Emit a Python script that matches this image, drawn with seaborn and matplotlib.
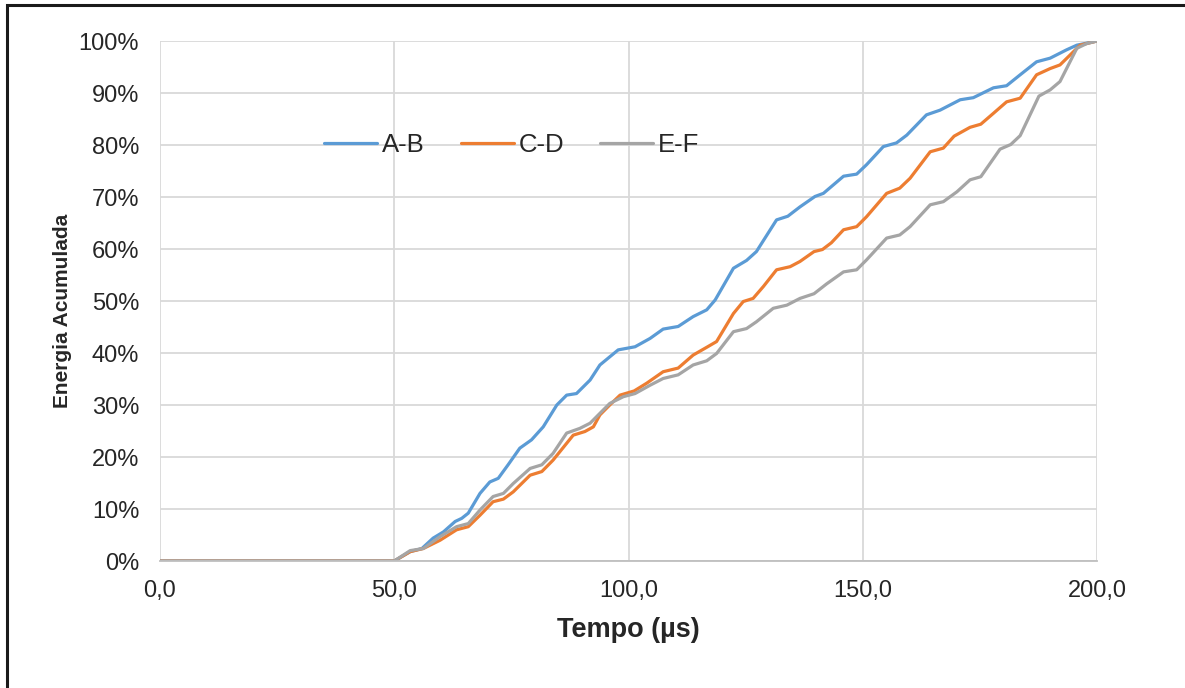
import numpy as np
import pandas as pd
import matplotlib
matplotlib.use("Agg")
import matplotlib.pyplot as plt
import seaborn as sns
from matplotlib.patches import Rectangle
from matplotlib.ticker import FuncFormatter

# ---- data ----
series_names = ["A-B", "C-D", "E-F"]

t_ab = [0, 50, 53.4, 55.9, 58.3, 60.5, 63, 64.4, 65.8, 68.3, 70.4, 72.2, 74.3, 76.8, 79.3,
        81.8, 84.7, 86.8, 88.9, 91.8, 93.9, 97.8, 101.4, 104.6, 107.4, 110.6, 113.8, 116.7,
        118.5, 122.4, 125.2, 127.3, 131.6, 134.0, 136.6, 139.8, 141.6, 145.9, 148.7, 150.8,
        154.4, 157.2, 159.4, 163.6, 166.5, 170.8, 173.6, 177.9, 180.7, 183.6, 187.1, 190,
        193.5, 195.7, 200]
e_ab = [0, 0, 1.8, 2.4, 4.4, 5.6, 7.6, 8.2, 9.2, 13.0, 15.2, 15.9, 18.5, 21.7, 23.3,
        25.8, 30.0, 31.9, 32.2, 34.8, 37.7, 40.6, 41.2, 42.8, 44.6, 45.1, 47.0, 48.3,
        50.2, 56.3, 57.8, 59.5, 65.6, 66.3, 68.1, 70.1, 70.7, 74.0, 74.4, 76.2,
        79.7, 80.4, 81.9, 85.8, 86.7, 88.7, 89.1, 91.0, 91.4, 93.5, 96.0, 96.7,
        98.3, 99.2, 100]

t_cd = [0, 50, 53.4, 56.2, 59.8, 63.3, 65.8, 68.3, 71.1, 73.3, 75.4, 79, 81.5, 83.9, 88.2,
        90.7, 92.5, 93.9, 96.0, 98.2, 101.2, 103.9, 107.4, 110.6, 113.8, 116.7, 118.8, 122.4,
        124.5, 126.6, 128.8, 131.6, 134.5, 136.6, 139.6, 141.4, 143.3, 145.9, 148.7, 150.8,
        155.1, 157.9, 160.1, 164.4, 167.2, 169.5, 172.9, 175.2, 177.9, 180.7, 183.6, 187.1,
        190, 192.1, 196.4, 200]
e_cd = [0, 0, 1.8, 2.4, 4.0, 6.0, 6.6, 8.8, 11.4, 11.9, 13.3, 16.5, 17.2, 19.4, 24.2,
        24.9, 25.8, 28.1, 30.0, 31.9, 32.7, 34.2, 36.4, 37.1, 39.6, 41.1, 42.2, 47.6,
        49.9, 50.5, 52.8, 56.0, 56.6, 57.6, 59.5, 59.9, 61.2, 63.7, 64.3, 66.2,
        70.7, 71.7, 73.6, 78.7, 79.4, 81.7, 83.4, 84.0, 86.1, 88.3, 89.0, 93.5,
        94.7, 95.4, 99.2, 100]

t_ef = [0, 50, 53.4, 56.2, 59.8, 63.3, 65.8, 68.3, 71.1, 73.3, 75.4, 79, 81.5, 83.9, 86.8,
        89.6, 91.8, 96, 98.9, 101.4, 104.6, 107.4, 110.6, 113.8, 116.7, 118.8, 122.4, 125.2,
        127.3, 130.9, 133.8, 136.6, 139.6, 142.3, 145.9, 148.7, 150.8, 155.1, 157.9, 160.1,
        164.4, 167.2, 170.1, 172.9, 175.2, 179.3, 181.6, 183.6, 187.6, 190, 192.1, 195.7,
        197.8, 200]
e_ef = [0, 0, 2.0, 2.4, 4.7, 6.6, 7.2, 9.8, 12.4, 13.0, 14.9, 17.8, 18.5, 20.7, 24.6,
        25.5, 26.5, 30.3, 31.6, 32.2, 33.8, 35.1, 35.8, 37.7, 38.5, 39.9, 44.1, 44.7,
        46.0, 48.6, 49.2, 50.5, 51.4, 53.3, 55.6, 56.0, 57.9, 62.1, 62.7, 64.3,
        68.5, 69.1, 71.0, 73.3, 73.9, 79.2, 80.1, 81.8, 89.4, 90.6, 92.2, 98.6,
        99.5, 100]

x_ticks = [0, 50, 100, 150, 200]
y_ticks = [0, 10, 20, 30, 40, 50, 60, 70, 80, 90, 100]

colors = {"A-B": "#5B9BD5", "C-D": "#ED7D31", "E-F": "#A5A5A5"}

df = pd.concat([
    pd.DataFrame({"t": t_ab, "e": e_ab, "serie": "A-B"}),
    pd.DataFrame({"t": t_cd, "e": e_cd, "serie": "C-D"}),
    pd.DataFrame({"t": t_ef, "e": e_ef, "serie": "E-F"}),
], ignore_index=True)

# ---- style ----
sns.set_theme(style="white")
plt.rcParams["font.family"] = ["Liberation Sans", "DejaVu Sans"]

fig = plt.figure(figsize=(11.85, 6.88), dpi=100)
ax = fig.add_axes([160 / 1185, 1 - 561 / 688, (1097 - 160) / 1185, (561 - 41) / 688])

sns.lineplot(data=df, x="t", y="e", hue="serie", hue_order=series_names,
             palette=colors, estimator=None, sort=False, linewidth=2.3, ax=ax)
for ln in ax.get_lines():
    ln.set_solid_joinstyle("round")
    ln.set_solid_capstyle("round")

ax.set_xlim(0, 200)
ax.set_ylim(0, 100)
ax.set_xticks(x_ticks)
ax.set_yticks(y_ticks)
ax.xaxis.set_major_formatter(FuncFormatter(lambda v, p: f"{v:.1f}".replace(".", ",")))
ax.yaxis.set_major_formatter(FuncFormatter(lambda v, p: f"{int(round(v))}%"))
ax.grid(True, color="#d9d9d9", linewidth=1.3)
ax.set_axisbelow(True)
for s in ["top", "right", "left"]:
    ax.spines[s].set_visible(False)
ax.spines["bottom"].set_color("#bfbfbf")
ax.spines["bottom"].set_linewidth(1.3)
ax.tick_params(axis="both", length=0, labelsize=17, labelcolor="#262626")
ax.tick_params(axis="x", pad=14)
ax.tick_params(axis="y", pad=15)

ax.set_xlabel("Tempo (µs)", fontsize=19.5, fontweight="bold", color="#262626")
ax.set_ylabel("Energia Acumulada", fontsize=15, fontweight="bold", color="#262626")
ax.xaxis.set_label_coords(0.5, -(617 - 561) / 520)
ax.yaxis.set_label_coords(-(160 - 72) / 937, (561 - 311) / 520)

handles, labels = ax.get_legend_handles_labels()
ax.legend(handles, labels, loc="center", bbox_to_anchor=((512 - 160) / 937, (561 - 145) / 520),
          ncol=3, frameon=False, fontsize=18.5, handlelength=2.05, handletextpad=0.2,
          columnspacing=1.4, labelcolor="#262626")

fig.add_artist(Rectangle((7 / 1185, -0.1), 1.2, 1.1 - 5.5 / 688, transform=fig.transFigure,
                         fill=False, linewidth=2.2, edgecolor="#1a1a1a"))

fig.savefig("out.png", dpi=100)
